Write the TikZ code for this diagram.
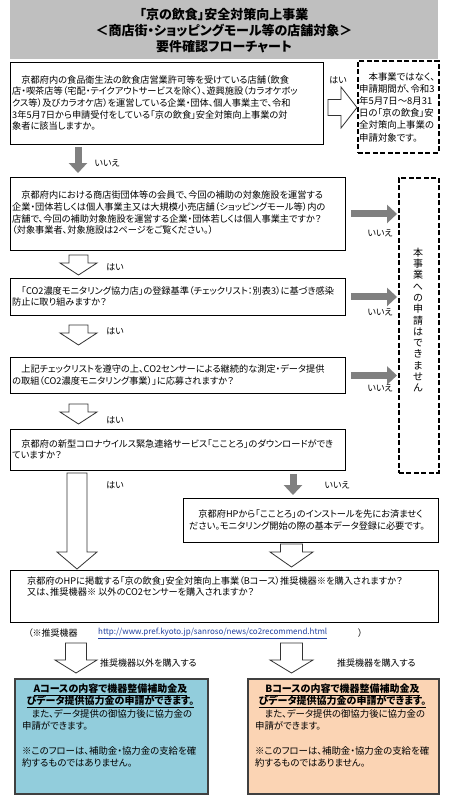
\documentclass[tikz,border=0pt]{standalone}
\usepackage{fontspec}
\setmainfont{Noto Sans CJK JP}[RawFeature=+palt]
\usetikzlibrary{arrows.meta}
\definecolor{titlegray}{HTML}{BFBFBF}
\definecolor{arrowgray}{HTML}{808080}
\definecolor{aquafill}{HTML}{92CDDC}
\definecolor{peachfill}{HTML}{FBD4B4}
\definecolor{borderdk}{HTML}{404040}
\definecolor{linkblue}{HTML}{1F3F9F}
\tikzset{
  box/.style={draw=black, line width=0.9pt, rectangle, inner sep=0pt, anchor=north west},
  dashbox/.style={draw=black, line width=1.8pt, dash pattern=on 5pt off 2.5pt, rectangle, inner sep=0pt, anchor=north west},
  coursebox/.style={draw=borderdk, line width=1.6pt, rectangle, inner sep=0pt, anchor=north west},
  txt/.style={inner sep=0pt, align=left, font=\fontsize{9.2}{11.7}\selectfont},
  lbl/.style={inner sep=0pt, font=\fontsize{9}{11}\selectfont},
  grayarr/.style={draw=arrowgray, line width=7pt, -{Triangle[width=18pt,length=10pt]}},
  hollowline/.style={draw=black!80, line width=0.8pt, fill=white, line join=miter},
  pics/hdown/.style args={#1/#2/#3/#4}{code={%
    \draw[hollowline] (-#1,0) -- (#1,0) -- (#1,#3) -- (#2,#3) -- (0,#3+#4) -- (-#2,#3) -- (-#1,#3) -- cycle;}},
  pics/hright/.style args={#1/#2/#3/#4}{code={%
    \draw[hollowline] (0,-#1) -- (0,#1) -- (#3,#1) -- (#3,#2) -- (#3+#4,0) -- (#3,-#2) -- (#3,-#1) -- cycle;}},
}
\begin{document}
\begin{tikzpicture}[x=1pt,y=-1pt]
\useasboundingbox (0,0) rectangle (448,800);
\fill[white] (0,0) rectangle (448,800);

% title
\node[fill=titlegray, minimum width=428pt, minimum height=59pt, anchor=north west, inner sep=0pt] (title) at (10,0) {};
\node[inner sep=0pt, align=center, font=\fontsize{13}{16}\selectfont\bfseries] (tt) at (224,31) {「京の飲食」安全対策向上事業\\＜商店街・ショッピングモール等の店舗対象＞\\要件確認フローチャート};

% box 1
\node[box, minimum width=313pt, minimum height=82pt] (b1) at (10,62) {};
\node[txt, anchor=west] (t1) at (12,103) {　京都府内の食品衛生法の飲食店営業許可等を受けている店舗（飲食\\店・喫茶店等（宅配・テイクアウトサービスを除く）、遊興施設（カラオケボッ\\クス等）及びカラオケ店）を運営している企業・団体、個人事業主で、令和\\3年5月7日から申請受付をしている「京の飲食」安全対策向上事業の対\\象者に該当しますか。};

% dashed box top right
\node[dashbox, minimum width=81pt, minimum height=92pt] (d1) at (357,60) {};
\node[txt, anchor=west, font=\fontsize{9.4}{12.2}\selectfont] (td1) at (359,107) {　本事業ではなく、\\申請期間が、令和3\\年5月7日～8月31\\日の「京の飲食」安\\全対策向上事業の\\申請対象です。};

\pic (ha0) at (328,107.5) {hright=8/20.5/13/16};
\node[lbl] (l0) at (338,80) {はい};

% box 2
\node[box, minimum width=335pt, minimum height=73pt] (b2) at (10,177) {};
\node[txt, anchor=west] (t2) at (12,213) {　京都府内における商店街団体等の会員で、今回の補助の対象施設を運営する\\企業・団体若しくは個人事業主又は大規模小売店舗（ショッピングモール等）内の\\店舗で、今回の補助対象施設を運営する企業・団体若しくは個人事業主ですか？\\（対象事業者、対象施設は2ページをご覧ください。）};

\coordinate (gx1) at (78,0);
\draw[grayarr, shorten <=2pt, shorten >=4pt] (b1.south -| gx1) -- (b2.north -| gx1);
\node[lbl] (l1) at (107,163) {いいえ};

% tall dashed box
\node[dashbox, minimum width=40pt, minimum height=295pt] (nb) at (398,177) {};
\node[inner sep=0pt, align=center, font=\fontsize{10}{11.3}\selectfont] (tnb) at (418,320) {本\\事\\業\\へ\\の\\申\\請\\は\\で\\き\\ま\\せ\\ん};

% box 3
\node[box, minimum width=335pt, minimum height=37pt] (b3) at (10,278) {};
\node[txt, anchor=west] (t3) at (12,296.5) {　「CO2濃度モニタリング協力店」の登録基準（チェックリスト：別表3）に基づき感染\\防止に取り組みますか？};

% box 4
\node[box, minimum width=335pt, minimum height=36pt] (b4) at (10,357) {};
\node[txt, anchor=west] (t4) at (12,375) {　上記チェックリストを遵守の上、CO2センサーによる継続的な測定・データ提供\\の取組（CO2濃度モニタリング事業）」に応募されますか？};

% box 5
\node[box, minimum width=335pt, minimum height=41pt] (b5) at (10,429) {};
\node[txt, anchor=west] (t5) at (12,449.5) {　京都府の新型コロナウイルス緊急連絡サービス「こことろ」のダウンロードができ\\ていますか？};

% gray arrows to tall box
\draw[grayarr, shorten <=5pt, shorten >=1pt] (b2.east) -- (nb.west |- b2.east);
\draw[grayarr, shorten <=5pt, shorten >=1pt] (b3.east) -- (nb.west |- b3.east);
\draw[grayarr, shorten <=5pt, shorten >=1pt] (b4.east) -- (nb.west |- b4.east);
\node[lbl] (l2) at (380,233) {いいえ};
\node[lbl] (l3) at (380,312) {いいえ};
\node[lbl] (l4) at (380,388) {いいえ};

% hollow down arrows (yes)
\pic (ha1) at (78.5,255) {hdown=9.5/18.5/8/12};
\node[lbl] (y1) at (115,267) {はい};
\pic (ha2) at (78.5,325) {hdown=9.5/18.5/8/12};
\node[lbl] (y2) at (115,331) {はい};
\pic (ha3) at (78.5,404) {hdown=9.5/18.5/8/12};
\node[lbl] (y3) at (115,420) {はい};
\pic (ha4) at (77,473) {hdown=10/20/79/17};
\node[lbl] (y4) at (115,485) {はい};

% box 6
\node[box, minimum width=255pt, minimum height=44pt] (b6) at (183,498) {};
\node[txt, anchor=west] (t6) at (189,520) {　京都府HPから「こことろ」のインストールを先にお済ませく\\ださい。モニタリング開始の際の基本データ登録に必要です。};

\coordinate (gx2) at (293,0);
\draw[grayarr, shorten <=3pt, shorten >=3pt] (b5.south -| gx2) -- (b6.north -| gx2);
\node[lbl] (n5) at (337,485) {いいえ};

\pic (ha5) at (291.5,544) {hdown=11/21.5/8/15};

% box 7
\node[box, minimum width=428pt, minimum height=52pt] (b7) at (10,570) {};
\node[txt, anchor=north west] (t7) at (27,576) {京都府のHPに掲載する「京の飲食」安全対策向上事業（Bコース）推奨機器※を購入されますか？\\又は、推奨機器※ 以外のCO2センサーを購入されますか？};

% URL line
\node[lbl, anchor=west] (u1) at (28,633.5) {（※推奨機器};
\node[lbl, anchor=west, font=\fontsize{8}{10}\selectfont, text=linkblue] (u2) at (98,633.5) {\underline{http://www.pref.kyoto.jp/sanroso/news/co2recommend.html}};
\node[lbl, anchor=west] (u3) at (358,633.5) {）};

% course arrows
\pic (hl) at (76,643) {hdown=10.5/21/17/13};
\pic (hr) at (291.5,643) {hdown=11/21.5/17/13};
\node[lbl, anchor=west] (la) at (100,663) {推奨機器以外を購入する};
\node[lbl, anchor=west] (lb) at (337,663) {推奨機器を購入する};

% course A
\node[coursebox, fill=aquafill, minimum width=193pt, minimum height=115pt] (ca) at (14,678) {};
\node[inner sep=0pt, align=center, font=\fontsize{10}{12.2}\selectfont\bfseries] (cat) at (110.5,696) {\underline{Aコースの内容で機器整備補助金及}\\\underline{びデータ提供協力金の申請ができます。}};
\node[txt, anchor=north west, font=\fontsize{9.4}{12.3}\selectfont] (cab) at (22,709) {　また、データ提供の御協力後に協力金の\\申請ができます。\\[12.3pt]※このフローは、補助金・協力金の支給を確\\約するものではありません。};

% course B
\node[coursebox, fill=peachfill, minimum width=191pt, minimum height=115pt] (cb) at (247,678) {};
\node[inner sep=0pt, align=center, font=\fontsize{10}{12.2}\selectfont\bfseries] (cbt) at (342.5,696) {\underline{Bコースの内容で機器整備補助金及}\\\underline{びデータ提供協力金の申請ができます。}};
\node[txt, anchor=north west, font=\fontsize{9.4}{12.3}\selectfont] (cbb) at (255,709) {　また、データ提供の御協力後に協力金の\\申請ができます。\\[12.3pt]※このフローは、補助金・協力金の支給を確\\約するものではありません。};
\end{tikzpicture}
\end{document}
